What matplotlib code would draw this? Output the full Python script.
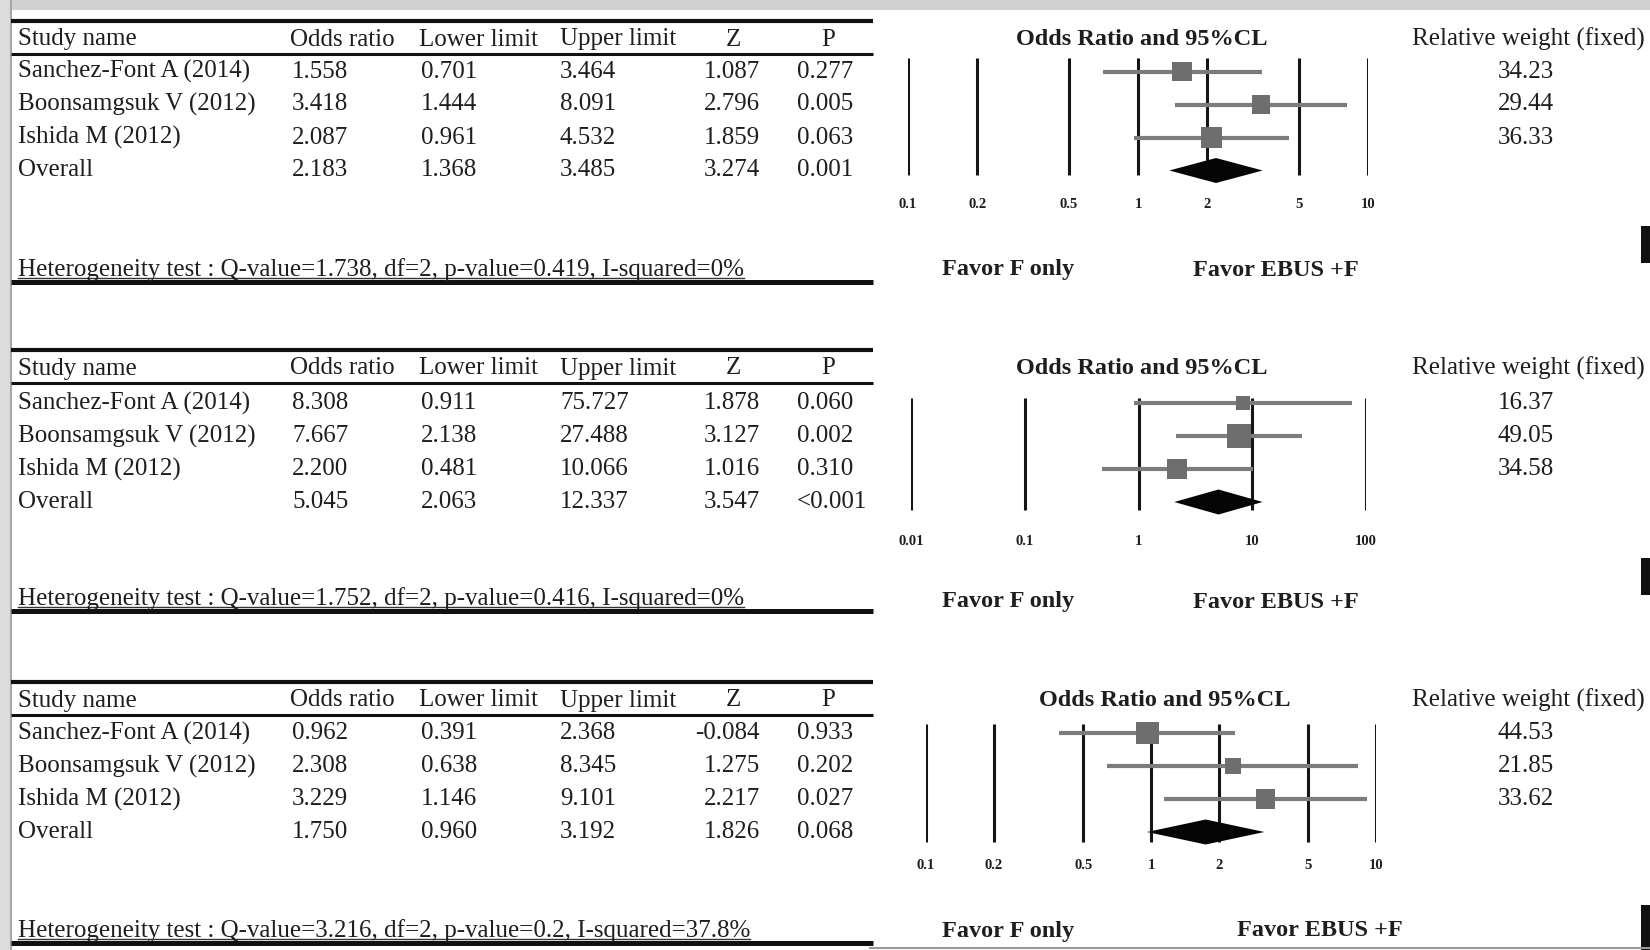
import numpy as np
import matplotlib
matplotlib.use("Agg")
import matplotlib.pyplot as plt
from matplotlib.ticker import NullLocator

plt.rcParams['font.family'] = ['Liberation Serif', 'DejaVu Serif']

# ---------------- data ----------------
studies = ["Sanchez-Font A (2014)", "Boonsamgsuk V (2012)", "Ishida M (2012)", "Overall"]
headers = ["Study name", "Odds ratio", "Lower limit", "Upper limit", "Z", "P"]

or_1 = [1.558, 3.418, 2.087, 2.183]
lo_1 = [0.701, 1.444, 0.961, 1.368]
up_1 = [3.464, 8.091, 4.532, 3.485]
z_1 = ["1.087", "2.796", "1.859", "3.274"]
p_1 = ["0.277", "0.005", "0.063", "0.001"]
w_1 = [34.23, 29.44, 36.33]
het_1 = "Heterogeneity test : Q-value=1.738, df=2, p-value=0.419, I-squared=0%"

or_2 = [8.308, 7.667, 2.200, 5.045]
lo_2 = [0.911, 2.138, 0.481, 2.063]
up_2 = [75.727, 27.488, 10.066, 12.337]
z_2 = ["1.878", "3.127", "1.016", "3.547"]
p_2 = ["0.060", "0.002", "0.310", "<0.001"]
w_2 = [16.37, 49.05, 34.58]
het_2 = "Heterogeneity test : Q-value=1.752, df=2, p-value=0.416, I-squared=0%"

or_3 = [0.962, 2.308, 3.229, 1.750]
lo_3 = [0.391, 0.638, 1.146, 0.960]
up_3 = [2.368, 8.345, 9.101, 3.192]
z_3 = ["-0.084", "1.275", "2.217", "1.826"]
p_3 = ["0.933", "0.202", "0.027", "0.068"]
w_3 = [44.53, 21.85, 33.62]
het_3 = "Heterogeneity test : Q-value=3.216, df=2, p-value=0.2, I-squared=37.8%"

ticks_a = [0.1, 0.2, 0.5, 1, 2, 5, 10]
tlabels_a = ["0.1", "0.2", "0.5", "1", "2", "5", "10"]
ticks_b = [0.01, 0.1, 1, 10, 100]
tlabels_b = ["0.01", "0.1", "1", "10", "100"]

forest_title = "Odds Ratio and 95%CL"
weight_title = "Relative weight (fixed)"
favor_left = "Favor F only"
favor_right = "Favor EBUS +F"

panels = [
    dict(orr=or_1, lo=lo_1, up=up_1, z=z_1, p=p_1, w=w_1, het=het_1,
         ticks=ticks_a, tl=tlabels_a, xlim=(0.1, 10)),
    dict(orr=or_2, lo=lo_2, up=up_2, z=z_2, p=p_2, w=w_2, het=het_2,
         ticks=ticks_b, tl=tlabels_b, xlim=(0.01, 100)),
    dict(orr=or_3, lo=lo_3, up=up_3, z=z_3, p=p_3, w=w_3, het=het_3,
         ticks=ticks_a, tl=tlabels_a, xlim=(0.1, 10)),
]

# ---------------- layout (pixels) ----------------
W, H = 1650, 950
bases = [21, 350, 682]
row_off = [50.5, 53, 51]
row_gap = 33
forest_px = [(908, 1368), (911, 1366), (926, 1376)]
vline_rng = [(37, 154), (48, 160), (42, 160)]
tick_lab_y = [184, 192, 184]
favor_y = [249, 252, 249]
favor_right_x = [1276, 1276, 1320]
ftitle_x = [1142, 1142, 1165]

FS = 18
FSB = 17.5
TXT = "#1e1e1e"

fig = plt.figure(figsize=(W / 100, H / 100), dpi=100)
bg = fig.add_axes([0, 0, 1, 1])
bg.set_xlim(0, W)
bg.set_ylim(H, 0)
bg.axis("off")

# frame artefacts of the scanned figure
bg.add_patch(plt.Rectangle((0, 0), W, 10, color="#d2d2d2", lw=0, zorder=0))
bg.add_patch(plt.Rectangle((0, 0), 11, H, color="#dcdcdc", lw=0, zorder=0))
bg.plot([11, 11], [0, H], color="#a8a8a8", lw=1.5, zorder=1)
for y0, y1 in [(226, 263), (558, 595), (905, 950)]:
    bg.add_patch(plt.Rectangle((1641, y0), 9, y1 - y0, color="#111111", lw=0))
bg.plot([870, W], [948, 948], color="#999999", lw=1.5)

col_hdr_x = [18, 290, 419, 560, 733, 828]
col_hdr_ha = ["left", "left", "left", "left", "center", "center"]

renderer = fig.canvas.get_renderer()

for k, pn in enumerate(panels):
    b = bases[k]
    rows_y = [b + row_off[k] + i * row_gap for i in range(4)]

    # table rules
    bg.plot([11, 873], [b, b], color="#111111", lw=3.0, solid_capstyle="butt")
    bg.plot([11, 873], [b + 33, b + 33], color="#111111", lw=2.2, solid_capstyle="butt")
    bg.plot([11, 873], [b + 261, b + 261], color="#111111", lw=3.6, solid_capstyle="butt")

    for txt, x, ha in zip(headers, col_hdr_x, col_hdr_ha):
        bg.text(x, b + 18.5, txt, ha=ha, va="center", fontsize=FS, color=TXT)

    for i in range(4):
        y = rows_y[i]
        bg.text(18, y, studies[i], ha="left", va="center", fontsize=FS, color=TXT)
        bg.text(292, y, f"{pn['orr'][i]:.3f}", ha="left", va="center", fontsize=FS, color=TXT)
        bg.text(421, y, f"{pn['lo'][i]:.3f}", ha="left", va="center", fontsize=FS, color=TXT)
        bg.text(560, y, f"{pn['up'][i]:.3f}", ha="left", va="center", fontsize=FS, color=TXT)
        bg.text(760, y, pn['z'][i], ha="right", va="center", fontsize=FS, color=TXT)
        bg.text(797, y, pn['p'][i], ha="left", va="center", fontsize=FS, color=TXT)

    ht = bg.text(18, b + 249, pn['het'], ha="left", va="center", fontsize=FS, color=TXT)
    bb = ht.get_window_extent(renderer=renderer)
    bg.plot([18, bb.x1], [b + 257, b + 257], color="#333333", lw=1.0)

    # forest headers & weights
    bg.text(ftitle_x[k], b + 18.5, forest_title, ha="center", va="center",
            fontsize=FSB, fontweight="bold", color=TXT)
    bg.text(1528, b + 18.5, weight_title, ha="center", va="center", fontsize=FS, color=TXT)
    for i in range(3):
        bg.text(1526, rows_y[i], f"{pn['w'][i]:.2f}", ha="center", va="center",
                fontsize=FS, color=TXT)
    bg.text(1008, b + favor_y[k], favor_left, ha="center", va="center",
            fontsize=FSB, fontweight="bold", color=TXT)
    bg.text(favor_right_x[k], b + favor_y[k], favor_right, ha="center", va="center",
            fontsize=FSB, fontweight="bold", color=TXT)

    # forest axes
    x0, x1 = forest_px[k]
    top_px, bot_px = b + 20, b + 176
    ax = fig.add_axes([x0 / W, 1 - bot_px / H, (x1 - x0) / W, (bot_px - top_px) / H])
    ax.set_xscale("log")
    ax.set_xlim(*pn['xlim'])
    r0 = b + row_off[k]
    ax.set_ylim((bot_px - r0) / row_gap, (top_px - r0) / row_gap)
    ax.patch.set_alpha(0)
    for s in ax.spines.values():
        s.set_visible(False)
    ax.set_yticks([])
    ax.set_xticks(pn['ticks'])
    ax.set_xticklabels(pn['tl'])
    ax.xaxis.set_minor_locator(NullLocator())
    pad_pt = max((tick_lab_y[k] - 7 - 176) * 0.72, 0.5)
    ax.tick_params(axis="x", length=0, pad=pad_pt, labelsize=10.5, colors=TXT)
    for lab in ax.get_xticklabels():
        lab.set_fontweight("bold")

    vy0 = (b + vline_rng[k][0] - r0) / row_gap
    vy1 = (b + vline_rng[k][1] - r0) / row_gap
    ax.vlines(pn['ticks'], vy0, vy1, color="#151515", lw=2.2, zorder=2)

    for i in range(3):
        ax.plot([pn['lo'][i], pn['up'][i]], [i, i], color="#7c7c7c", lw=3.0,
                solid_capstyle="butt", zorder=3)
        side_pt = 3.4 * np.sqrt(pn['w'][i]) * 0.72
        ax.scatter([pn['orr'][i]], [i], marker="s", s=side_pt ** 2,
                   color="#6e6e6e", edgecolors="none", zorder=4)
    h = 12.5 / row_gap
    ax.fill([pn['lo'][3], pn['orr'][3], pn['up'][3], pn['orr'][3]],
            [3, 3 - h, 3, 3 + h], color="#050505", lw=0, zorder=5)

fig.savefig("out.png", dpi=100)
